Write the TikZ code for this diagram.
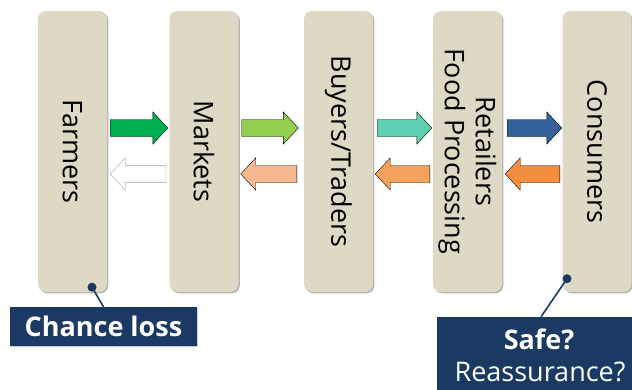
\documentclass[tikz,border=0pt]{standalone}
\usepackage{fontspec}
\setmainfont{Open Sans}
\usetikzlibrary{calc,shadows}

\definecolor{boxtan}{HTML}{DDD9C4}
\definecolor{navy}{HTML}{1B3A63}
\definecolor{agreen}{HTML}{00B050}
\definecolor{alime}{HTML}{92D050}
\definecolor{ateal}{HTML}{5FD0B1}
\definecolor{ablue}{HTML}{35609A}
\definecolor{apeach}{HTML}{F5BA90}
\definecolor{aorange}{HTML}{F5A25F}
\definecolor{adeep}{HTML}{F28E3E}

% block arrow: style, tail coordinate, tip coordinate
\newcommand\flowarrow[3]{%
  \filldraw[#1]
    ($(#2)+(0,8.5)$) -- ($(#3)!15pt!(#2)+(0,8.5)$) -- ($(#3)!15pt!(#2)+(0,16)$)
    -- (#3)
    -- ($(#3)!15pt!(#2)+(0,-16)$) -- ($(#3)!15pt!(#2)+(0,-8.5)$) -- ($(#2)+(0,-8.5)$)
    -- cycle;}

\begin{document}
\begin{tikzpicture}[x=1pt,y=-1pt,
  stage/.style={fill=boxtan, rounded corners=8pt, minimum width=69pt,
    minimum height=281pt, inner sep=0pt,
    drop shadow={shadow xshift=1.3pt, shadow yshift=-1.3pt, opacity=0.3, fill=black}},
  stagetext/.style={rotate=-90, font=\fontsize{27}{31}\selectfont, align=center, inner sep=0pt},
  callout/.style={fill=navy, inner sep=0pt,
    drop shadow={shadow xshift=1pt, shadow yshift=-1pt, opacity=0.2, fill=black}},
  calltext/.style={text=white, inner sep=0pt, font=\fontsize{27}{31}\selectfont},
  leader/.style={navy, line width=1.6pt},
  hollow/.style={fill=white, draw=black!25, line width=0.6pt},
]
\useasboundingbox (0,0) rectangle (632,389);

% stages of the chain
\node[stage] (farm) at (72.5,151.5) {};
\node[stage] (mkt)  at (204,151.5) {};
\node[stage] (buy)  at (338.5,151.5) {};
\node[stage] (ret)  at (467.5,151.5) {};
\node[stage] (cons) at (597,151.5) {};

\node[stagetext] (farmT) at (farm.center) {Farmers};
\node[stagetext] (mktT)  at (mkt.center) {Markets};
\node[stagetext] (buyT)  at (buy.center) {Buyers/Traders};
\node[stagetext] (retT)  at (ret.center) {Retailers\\Food Processing};
\node[stagetext] (consT) at (cons.center) {Consumers};

% arrow ends: forward row above, return row below
\coordinate (f1a) at ($(farm.east)+(3,-23.5)$);
\coordinate (f1b) at ($(mkt.west)+(-1.5,-23.5)$);
\coordinate (b1a) at ($(mkt.west)+(-3.5,22.5)$);
\coordinate (b1b) at ($(farm.east)+(3,22.5)$);
\coordinate (f2a) at ($(mkt.east)+(3,-23.5)$);
\coordinate (f2b) at ($(buy.west)+(-5.5,-23.5)$);
\coordinate (b2a) at ($(buy.west)+(-7,22.5)$);
\coordinate (b2b) at ($(mkt.east)+(2,22.5)$);
\coordinate (f3a) at ($(buy.east)+(4,-23.5)$);
\coordinate (f3b) at ($(ret.west)+(-1,-23.5)$);
\coordinate (b3a) at ($(ret.west)+(-3,22.5)$);
\coordinate (b3b) at ($(buy.east)+(2,22.5)$);
\coordinate (f4a) at ($(ret.east)+(5,-23.5)$);
\coordinate (f4b) at ($(cons.west)+(-0.5,-23.5)$);
\coordinate (b4a) at ($(cons.west)+(-2.5,22.5)$);
\coordinate (b4b) at ($(ret.east)+(3,22.5)$);

\flowarrow{fill=agreen}{f1a}{f1b}
\flowarrow{hollow}{b1a}{b1b}
\flowarrow{fill=alime}{f2a}{f2b}
\flowarrow{fill=apeach}{b2a}{b2b}
\flowarrow{fill=ateal}{f3a}{f3b}
\flowarrow{fill=aorange}{b3a}{b3b}
\flowarrow{fill=ablue}{f4a}{f4b}
\flowarrow{fill=adeep}{b4a}{b4b}

% callouts
\node[callout, minimum width=187pt, minimum height=39pt] (loss) at (103.5,326.5) {};
\node[calltext, font=\fontsize{27}{31}\selectfont\bfseries] (lossT) at (loss.center) {Chance loss};

% this one runs on past the right and bottom edges
\node[callout, minimum width=210pt, minimum height=84pt] (safe) at (542,359) {};
\node[calltext, font=\fontsize{27}{31}\selectfont\bfseries] (safeT) at (539,339) {Safe?};
\node[calltext] (reasT) at (540,372) {Reassurance?};

\coordinate (lossdot) at ($(farm.south)+(19.5,-5)$);
\coordinate (safedot) at ($(cons.south)+(-30,-13.5)$);
\coordinate (safetop) at ($(safe.north)+(-1,0)$);
\draw[leader] (lossdot) -- (loss.north);
\draw[leader] (safedot) -- (safetop);
\fill[navy] (lossdot) circle (4.5);
\fill[navy] (safedot) circle (4.5);
\end{tikzpicture}
\end{document}
